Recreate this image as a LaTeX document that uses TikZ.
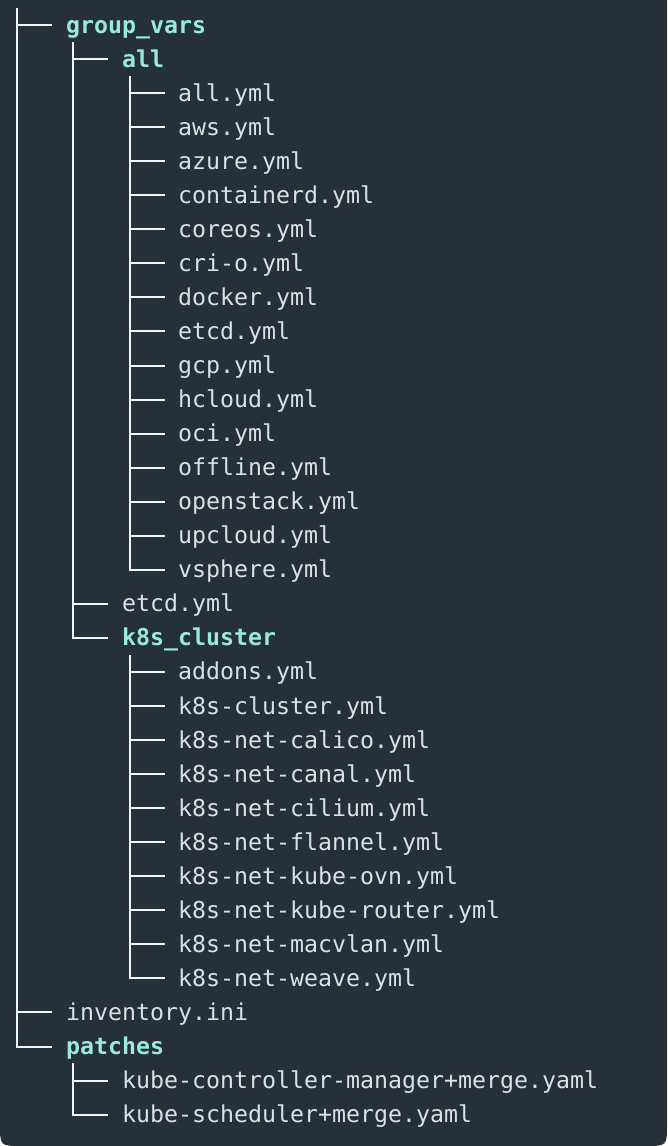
\documentclass[tikz,border=0pt]{standalone}
\usepackage{fontspec}
\setmonofont{DejaVu Sans Mono}
\definecolor{bgc}{HTML}{263039}
\definecolor{filec}{HTML}{DCE0E3}
\definecolor{dirc}{HTML}{98EBD8}
\definecolor{linec}{HTML}{F2F3F4}
\tikzset{
  entry/.style={anchor=west, inner sep=0pt, text height=17pt, text depth=1pt,
    font=\ttfamily\fontsize{23.25}{28}\selectfont},
  filebox/.style={entry, text=filec},
  dirbox/.style={entry, text=dirc, font=\ttfamily\bfseries\fontsize{23.25}{28}\selectfont},
  treeline/.style={draw=linec, line width=2pt},
}
\begin{document}
\begin{tikzpicture}[x=1pt,y=-1pt]
\useasboundingbox (0,0) rectangle (667,1146);
\fill[white] (0,0) rectangle (667,1146);
\fill[bgc] (0,0) -- (667,0) -- (667,1124) .. controls (667,1146) .. (645,1146)
  -- (22,1146) .. controls (0,1146) .. (0,1124) -- cycle;
% rows: y = 25 + 34.05 i
\def\xa{66}\def\xb{122}\def\xc{178}
\node[dirbox]  (gv)   at (\xa, 25.00) {group\_vars};
\node[dirbox]  (all)  at (\xb, 59.05) {all};
\node[filebox] (f2)   at (\xc, 93.10) {all.yml};
\node[filebox] (f3)   at (\xc,127.15) {aws.yml};
\node[filebox] (f4)   at (\xc,161.20) {azure.yml};
\node[filebox] (f5)   at (\xc,195.25) {containerd.yml};
\node[filebox] (f6)   at (\xc,229.30) {coreos.yml};
\node[filebox] (f7)   at (\xc,263.35) {cri-o.yml};
\node[filebox] (f8)   at (\xc,297.40) {docker.yml};
\node[filebox] (f9)   at (\xc,331.45) {etcd.yml};
\node[filebox] (f10)  at (\xc,365.50) {gcp.yml};
\node[filebox] (f11)  at (\xc,399.55) {hcloud.yml};
\node[filebox] (f12)  at (\xc,433.60) {oci.yml};
\node[filebox] (f13)  at (\xc,467.65) {offline.yml};
\node[filebox] (f14)  at (\xc,501.70) {openstack.yml};
\node[filebox] (f15)  at (\xc,535.75) {upcloud.yml};
\node[filebox] (f16)  at (\xc,569.80) {vsphere.yml};
\node[filebox] (etcd) at (\xb,603.85) {etcd.yml};
\node[dirbox]  (k8s)  at (\xb,637.90) {k8s\_cluster};
\node[filebox] (k19)  at (\xc,671.95) {addons.yml};
\node[filebox] (k20)  at (\xc,706.00) {k8s-cluster.yml};
\node[filebox] (k21)  at (\xc,740.05) {k8s-net-calico.yml};
\node[filebox] (k22)  at (\xc,774.10) {k8s-net-canal.yml};
\node[filebox] (k23)  at (\xc,808.15) {k8s-net-cilium.yml};
\node[filebox] (k24)  at (\xc,842.20) {k8s-net-flannel.yml};
\node[filebox] (k25)  at (\xc,876.25) {k8s-net-kube-ovn.yml};
\node[filebox] (k26)  at (\xc,910.30) {k8s-net-kube-router.yml};
\node[filebox] (k27)  at (\xc,944.35) {k8s-net-macvlan.yml};
\node[filebox] (k28)  at (\xc,978.40) {k8s-net-weave.yml};
\node[filebox] (inv)  at (\xa,1012.45) {inventory.ini};
\node[dirbox]  (pat)  at (\xa,1046.50) {patches};
\node[filebox] (p31)  at (\xb,1080.55) {kube-controller-manager+merge.yaml};
\node[filebox] (p32)  at (\xb,1114.60) {kube-scheduler+merge.yaml};
% trunk tops
\coordinate (ta) at (16.5,8);
\coordinate (tb) at (73,42);
\coordinate (tc) at (130,76);
\coordinate (td) at (130,655);
\coordinate (te) at (73,1063);
% trunks
\draw[treeline] (ta) -- (ta |- pat.west);
\draw[treeline] (tb) -- (tb |- k8s.west);
\draw[treeline] (tc) -- (tc |- f16.west);
\draw[treeline] (td) -- (td |- k28.west);
\draw[treeline] (te) -- (te |- p32.west);
% branches
\foreach \n in {gv,inv,pat}
  \draw[treeline] ([xshift=-1pt]ta |- \n.west) -- ([xshift=-14pt]\n.west);
\foreach \n in {all,etcd,k8s}
  \draw[treeline] ([xshift=-1pt]tb |- \n.west) -- ([xshift=-14pt]\n.west);
\foreach \n in {f2,f3,f4,f5,f6,f7,f8,f9,f10,f11,f12,f13,f14,f15,f16}
  \draw[treeline] ([xshift=-1pt]tc |- \n.west) -- ([xshift=-13pt]\n.west);
\foreach \n in {k19,k20,k21,k22,k23,k24,k25,k26,k27,k28}
  \draw[treeline] ([xshift=-1pt]td |- \n.west) -- ([xshift=-13pt]\n.west);
\foreach \n in {p31,p32}
  \draw[treeline] ([xshift=-1pt]te |- \n.west) -- ([xshift=-14pt]\n.west);
\end{tikzpicture}
\end{document}
